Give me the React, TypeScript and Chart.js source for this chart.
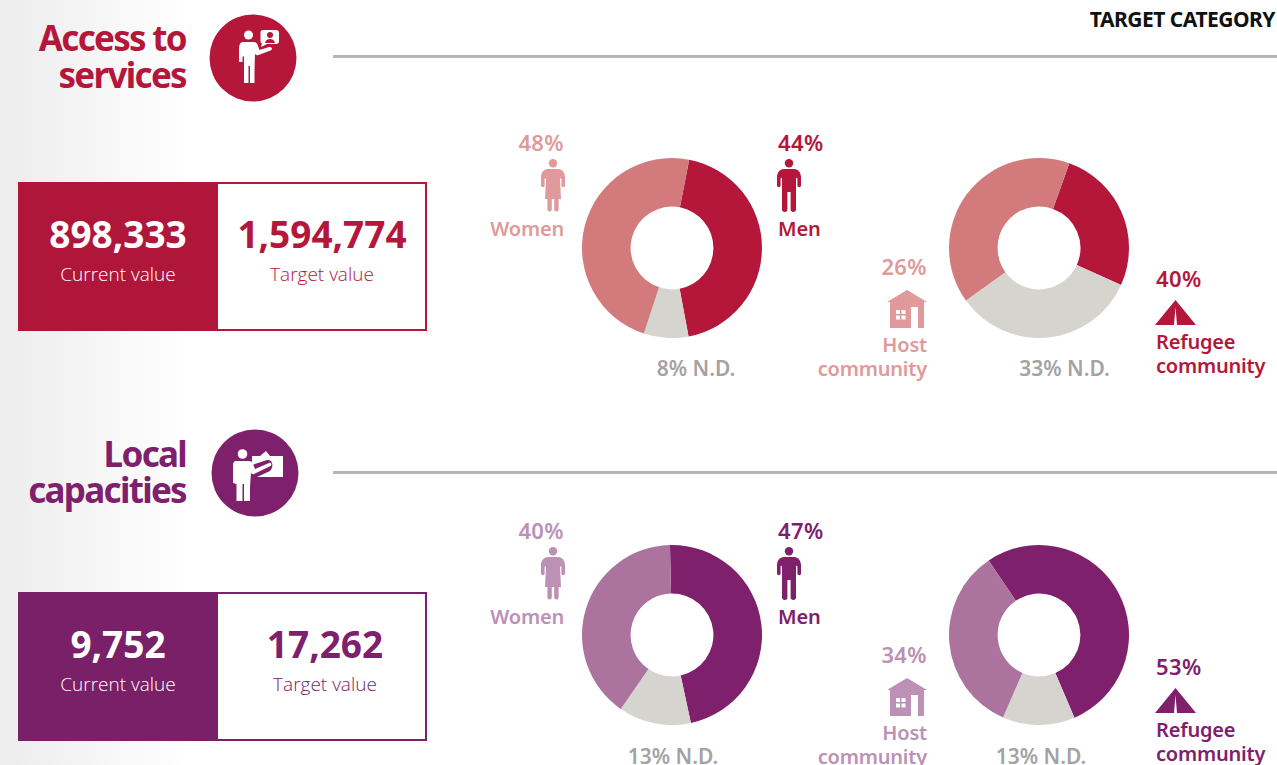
import React, { useEffect, useRef } from "react";
import { Chart, registerables } from "chart.js";

Chart.register(...registerables);

const CRIMSON = "#b5173b";
const CRIMSON_SLICE = "#d37a7d";
const CRIMSON_LABEL = "#e09a9b";
const PURPLE = "#7f206c";
const PURPLE_SLICE = "#ab739e";
const PURPLE_LABEL = "#bd90b6";
const GREY_SLICE = "#d6d4cf";
const GREY_TEXT = "#a3a3a3";

const sliceNames = ["Primary", "N.D.", "Secondary"];

// slice order: dark, N.D., light
const accessGender = [44, 8, 48];
const accessCommunity = [26, 33, 40];
const localGender = [47, 13, 40];
const localCommunity = [53, 13, 34];

// the community labels of the first row, as printed
const accessRefugeeLabel = 40;
const accessHostLabel = 26;
const accessNdLabel = 33;

const accessCurrent = "898,333";
const accessTarget = "1,594,774";
const localCurrent = "9,752";
const localTarget = "17,262";

const FONT = "'Noto Sans', sans-serif";
const FONT_OPEN = "'Open Sans', sans-serif";

function Donut({ x, y, values, rotation, colors }: any) {
  const ref = useRef<HTMLCanvasElement>(null);
  useEffect(() => {
    const chart = new Chart(ref.current as HTMLCanvasElement, {
      type: "doughnut",
      data: {
        labels: sliceNames,
        datasets: [{ data: values, backgroundColor: colors, borderWidth: 0 }],
      },
      options: {
        responsive: false,
        animation: false,
        rotation,
        cutout: "46%",
        layout: { padding: 0 },
        plugins: { legend: { display: false }, tooltip: { enabled: false } },
      },
    });
    return () => chart.destroy();
  }, []);
  return (
    <canvas
      ref={ref}
      width={180}
      height={180}
      style={{ position: "absolute", left: x - 90, top: y - 90, width: 180, height: 180 }}
    />
  );
}

function T({ x, y, align = "left", size = 20, weight = 600, color, font = FONT, ls = 0, children }: any) {
  const h = Math.round(size);
  const style: any = {
    position: "absolute",
    top: y - h / 2,
    height: h,
    lineHeight: `${h}px`,
    fontSize: size,
    fontWeight: weight,
    fontFamily: font,
    color,
    letterSpacing: ls,
    whiteSpace: "nowrap",
  };
  if (align === "left") style.left = x;
  else if (align === "right") style.right = 1277 - x;
  else {
    style.left = x - 100;
    style.width = 200;
    style.textAlign = "center";
  }
  return <div style={style}>{children}</div>;
}

const Pct = (p: any) => <T size={22} ls={0.4} {...p} />;
const Nd = (p: any) => <T size={21} align="center" color={GREY_TEXT} {...p} />;
const Lbl = (p: any) => <T ls={-0.2} {...p} />;

function Man({ x, y, color }: any) {
  return (
    <svg style={{ position: "absolute", left: x, top: y }} width="24" height="53" viewBox="0 0 24 53">
      <circle cx="12" cy="4.2" r="4.2" fill={color} />
      <path
        fill={color}
        d="M7 10H17C21.500 10 24 14 24 18.500V26.500A1.800 1.800 0 0 1 20.400 26.500V19.500C20.400 18.600 19 18.600 19 19.500V50.300A2.700 2.700 0 0 1 13.600 50.300V33H10.400V50.300A2.700 2.700 0 0 1 5 50.300V19.500C5 18.600 3.600 18.600 3.600 19.500V26.500A1.800 1.800 0 0 1 0 26.500V18.500C0 14 2.500 10 7 10Z"
      />
    </svg>
  );
}

function Woman({ x, y, color }: any) {
  return (
    <svg style={{ position: "absolute", left: x, top: y }} width="24" height="53" viewBox="0 0 24 53">
      <circle cx="12" cy="4.2" r="4.2" fill={color} />
      <path
        fill={color}
        d="M7 10H17C21.500 10 24 14 24 18.500V26.500A1.800 1.800 0 0 1 20.400 26.500V19.500L19 19.500L20 40H17.600V50.300A2.200 2.200 0 0 1 13.200 50.300V40H10.800V50.300A2.200 2.200 0 0 1 6.400 50.300V40H4L5 19.500L3.600 19.500V26.500A1.800 1.800 0 0 1 0 26.500V18.500C0 14 2.500 10 7 10Z"
      />
    </svg>
  );
}

function House({ x, y, color }: any) {
  return (
    <svg style={{ position: "absolute", left: x, top: y }} width="40" height="38" viewBox="0 0 40 38">
      <path
        fill={color}
        fillRule="evenodd"
        d="M20 0L40 12H37V38H31V17H24V38H3V12H0ZM9 20V24H13V20ZM14.500 20V24H18.500V20ZM9 25.500V29.500H13V25.500ZM14.500 25.500V29.500H18.500V25.500Z"
      />
    </svg>
  );
}

function Tent({ x, y, color }: any) {
  return (
    <svg style={{ position: "absolute", left: x, top: y }} width="41" height="25" viewBox="0 0 41 25">
      <path fill={color} d="M20.500 0L41 25H22L20.500 7L19 25H0Z" />
    </svg>
  );
}

function HeadAccess({ cx, cy, color }: any) {
  return (
    <svg style={{ position: "absolute", left: cx - 44, top: cy - 44 }} width="88" height="88" viewBox="0 0 88 88">
      <circle cx="44" cy="44" r="43.500" fill={color} />
      <circle cx="39.500" cy="21" r="4.500" fill="#fff" />
      <path
        fill="#fff"
        d="M34 28H45C47 28 48 29 49 32L50.500 36L60 33C63 32.500 64 35.500 61.500 36.500L49.500 41C47.500 41.500 46.500 41 46 39.500L45.500 56V69H41V52H39.500V69H35V42L33.500 43V48H30V36C30 31 31 28 34 28Z"
      />
      <path
        fill="#fff"
        fillRule="evenodd"
        d="M54 16H67C69 16 70 17 70 19V27C70 29 69 30 67 30H58L52 33L53 29.500C52 29 51.500 28 51.500 27V19C51.500 17 52 16 54 16ZM61 18A3 3 0 1 0 61 24A3 3 0 1 0 61 18ZM56 29H66C65.500 26.500 63.500 25 61 25C58.500 25 56.500 26.500 56 29Z"
      />
    </svg>
  );
}

function HeadLocal({ cx, cy, color }: any) {
  return (
    <svg style={{ position: "absolute", left: cx - 44, top: cy - 44 }} width="88" height="88" viewBox="0 0 88 88">
      <circle cx="44" cy="44" r="43.500" fill={color} />
      <circle cx="31.500" cy="25" r="4.800" fill="#fff" />
      <path
        fill="#fff"
        d="M25 32H38C40 32 41.500 33 42 35L44 40L58 34C60 33 61.500 35.500 59.500 37L43 45C41.500 45.500 40.500 45 40 43.500L39 58V72H33V55H31.500V72H25.500V55L22 54V37C22 34 22.500 32 25 32Z"
      />
      <path
        fill="#fff"
        d="M41 27H49L55 22L59 27H72V48H46L59 42C63 38 62 30 56 31L41 36Z"
      />
    </svg>
  );
}

const W = "#ffffff";

function ValueBox({ top, color, border, current, target, targetX }: any) {
  return (
    <>
      <div
        style={{
          position: "absolute",
          left: 18,
          top,
          width: 405,
          height: 145,
          border: `2px solid ${border}`,
          background: "#fff",
        }}
      />
      <div
        style={{
          position: "absolute",
          left: 18,
          top,
          width: 200,
          height: 149,
          background: color,
        }}
      />
      <T x={118} y={top + 51} align="center" size={37} weight={700} color={W}>
        {current}
      </T>
      <T x={118} y={top + 92} align="center" size={19} weight={300} color={W} font={FONT_OPEN}>
        Current value
      </T>
      <T x={targetX} y={top + 51} align="center" size={37} weight={700} color={border}>
        {target}
      </T>
      <T x={targetX} y={top + 92} align="center" size={19} weight={300} color={border} font={FONT_OPEN}>
        Target value
      </T>
    </>
  );
}

export default function App() {
  return (
    <div
      style={{
        position: "absolute",
        left: 0,
        top: 0,
        width: 1277,
        height: 765,
        overflow: "hidden",
        background: "linear-gradient(90deg, #ececec 0px, #ffffff 190px)",
      }}
    >
      <T x={1275} y={19} align="right" size={21} weight={700} color="#111" ls={-0.5}>
        TARGET CATEGORY
      </T>

      {/* first row */}
      <T x={186} y={37} align="right" size={35} weight={700} color={CRIMSON} ls={-1.7}>
        Access to
      </T>
      <T x={186} y={74} align="right" size={35} weight={700} color={CRIMSON} ls={-1.7}>
        services
      </T>
      <HeadAccess cx={253} cy={58} color={CRIMSON} />
      <div style={{ position: "absolute", left: 333, top: 55, width: 944, height: 3, background: "#b5b5b5" }} />
      <ValueBox top={182} color="#b0163a" border={CRIMSON} current={accessCurrent} target={accessTarget} targetX={322} />

      <Donut x={672} y={248.300} values={accessGender} rotation={11} colors={[CRIMSON, GREY_SLICE, CRIMSON_SLICE]} />
      <Pct x={564} y={142} align="right" color={CRIMSON_LABEL}>{accessGender[2]}%</Pct>
      <Woman x={541} y={159} color={CRIMSON_LABEL} />
      <Lbl x={564} y={229} align="right" color={CRIMSON_LABEL}>Women</Lbl>
      <Pct x={778} y={142} color={CRIMSON}>{accessGender[0]}%</Pct>
      <Man x={777} y={159} color={CRIMSON} />
      <Lbl x={778} y={229} color={CRIMSON}>Men</Lbl>
      <Nd x={696} y={368}>{accessGender[1]}% N.D.</Nd>

      <Donut x={1039.300} y={248.300} values={accessCommunity} rotation={19.700} colors={[CRIMSON, GREY_SLICE, CRIMSON_SLICE]} />
      <Pct x={927} y={266} align="right" color={CRIMSON_LABEL}>{accessHostLabel}%</Pct>
      <House x={887} y={290} color={CRIMSON_LABEL} />
      <Lbl x={927} y={345} align="right" color={CRIMSON_LABEL}>Host</Lbl>
      <Lbl x={927} y={369} align="right" color={CRIMSON_LABEL}>community</Lbl>
      <Nd x={1064.500} y={368}>{accessNdLabel}% N.D.</Nd>
      <Pct x={1156} y={278} color={CRIMSON}>{accessRefugeeLabel}%</Pct>
      <Tent x={1155} y={300} color={CRIMSON} />
      <Lbl x={1156} y={342} color={CRIMSON}>Refugee</Lbl>
      <Lbl x={1156} y={366} color={CRIMSON}>community</Lbl>

      {/* second row */}
      <T x={186} y={453} align="right" size={35} weight={700} color={PURPLE} ls={-1.7}>
        Local
      </T>
      <T x={186} y={489} align="right" size={35} weight={700} color={PURPLE} ls={-1.7}>
        capacities
      </T>
      <HeadLocal cx={255} cy={473} color={PURPLE} />
      <div style={{ position: "absolute", left: 333, top: 471, width: 944, height: 3, background: "#b5b5b5" }} />
      <ValueBox top={592} color="#7a2068" border={PURPLE} current={localCurrent} target={localTarget} targetX={325} />

      <Donut x={672} y={635} values={localGender} rotation={-1.300} colors={[PURPLE, GREY_SLICE, PURPLE_SLICE]} />
      <Pct x={564} y={530} align="right" color={PURPLE_LABEL}>{localGender[2]}%</Pct>
      <Woman x={541} y={547} color={PURPLE_LABEL} />
      <Lbl x={564} y={617} align="right" color={PURPLE_LABEL}>Women</Lbl>
      <Pct x={778} y={530} color={PURPLE}>{localGender[0]}%</Pct>
      <Man x={777} y={547} color={PURPLE} />
      <Lbl x={778} y={617} color={PURPLE}>Men</Lbl>
      <Nd x={673} y={756}>{localGender[1]}% N.D.</Nd>

      <Donut x={1039.300} y={635} values={localCommunity} rotation={-34} colors={[PURPLE, GREY_SLICE, PURPLE_SLICE]} />
      <Pct x={927} y={654} align="right" color={PURPLE_LABEL}>{localCommunity[2]}%</Pct>
      <House x={887} y={678} color={PURPLE_LABEL} />
      <Lbl x={927} y={733} align="right" color={PURPLE_LABEL}>Host</Lbl>
      <Lbl x={927} y={757} align="right" color={PURPLE_LABEL}>community</Lbl>
      <Nd x={1041} y={756}>{localCommunity[1]}% N.D.</Nd>
      <Pct x={1156} y={666} color={PURPLE}>{localCommunity[0]}%</Pct>
      <Tent x={1155} y={688} color={PURPLE} />
      <Lbl x={1156} y={730} color={PURPLE}>Refugee</Lbl>
      <Lbl x={1156} y={754} color={PURPLE}>community</Lbl>
    </div>
  );
}
